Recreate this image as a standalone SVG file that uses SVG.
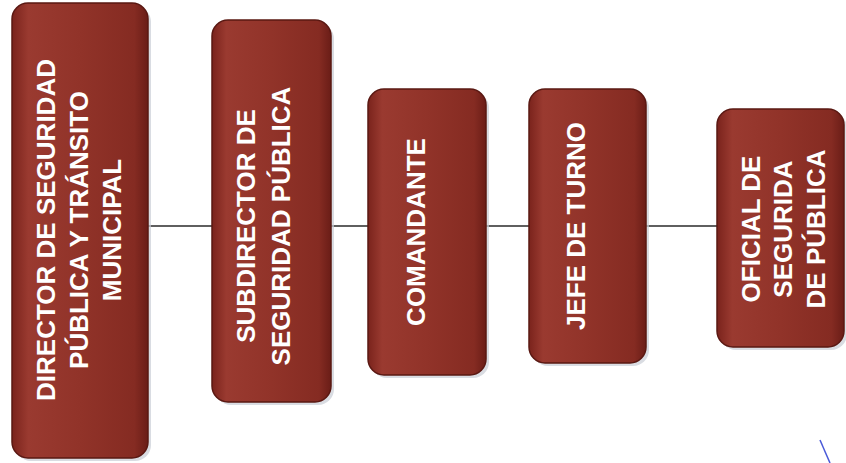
<svg xmlns="http://www.w3.org/2000/svg" width="846" height="463" viewBox="0 0 846 463">
<style>
.box{fill:url(#g);stroke:#5a1812;stroke-width:1.5}
.shadow{fill:#c9cdd6;opacity:0.7}
.lbl{font-family:"Liberation Sans",Arial,sans-serif;font-size:26px;font-weight:bold;fill:#ffffff;text-anchor:middle}
.conn{stroke:#2a2a2a;stroke-width:1.3;fill:none}
</style>
<defs>
<linearGradient id="g" x1="0" y1="0" x2="1" y2="0">
<stop offset="0" stop-color="#7a231c"/>
<stop offset="0.12" stop-color="#9a3a30"/>
<stop offset="0.5" stop-color="#913329"/>
<stop offset="0.9" stop-color="#852b22"/>
<stop offset="1" stop-color="#6a1d17"/>
</linearGradient>
</defs>
<rect width="846" height="463" fill="#ffffff"/>
<g id="connectors">
<line class="conn" x1="148" y1="226" x2="212" y2="226"/>
<line class="conn" x1="331" y1="226" x2="368" y2="226"/>
<line class="conn" x1="486" y1="226" x2="529" y2="226"/>
<line class="conn" x1="646" y1="226" x2="717" y2="226"/>
</g>
<g id="n1">
<rect class="shadow" x="15" y="6" width="136" height="455" rx="16"/>
<rect class="box" x="12" y="3" width="136" height="455" rx="16"/>
<text class="lbl" transform="translate(55,230) rotate(-90)">DIRECTOR DE SEGURIDAD</text>
<text class="lbl" transform="translate(88,230) rotate(-90)">PÚBLICA Y TRÁNSITO</text>
<text class="lbl" transform="translate(121,230) rotate(-90)">MUNICIPAL</text>
</g>
<g id="n2">
<rect class="shadow" x="215" y="23" width="119" height="382" rx="16"/>
<rect class="box" x="212" y="20" width="119" height="382" rx="16"/>
<text class="lbl" transform="translate(255,226) rotate(-90)">SUBDIRECTOR DE</text>
<text class="lbl" transform="translate(290,226) rotate(-90)">SEGURIDAD PÚBLICA</text>
</g>
<g id="n3">
<rect class="shadow" x="371" y="92" width="118" height="286" rx="16"/>
<rect class="box" x="368" y="89" width="118" height="286" rx="16"/>
<text class="lbl" transform="translate(425,232) rotate(-90)">COMANDANTE</text>
</g>
<g id="n4">
<rect class="shadow" x="532" y="92" width="117" height="274" rx="16"/>
<rect class="box" x="529" y="89" width="117" height="274" rx="16"/>
<text class="lbl" transform="translate(585,226) rotate(-90)">JEFE DE TURNO</text>
</g>
<g id="n5">
<rect class="shadow" x="720" y="112" width="127" height="238" rx="16"/>
<rect class="box" x="717" y="109" width="127" height="238" rx="16"/>
<text class="lbl" transform="translate(760,229) rotate(-90)">OFICIAL DE</text>
<text class="lbl" transform="translate(792,229) rotate(-90)">SEGURIDA</text>
<text class="lbl" transform="translate(825,229) rotate(-90)">DE PÚBLICA</text>
</g>
<line x1="820" y1="440" x2="830" y2="463" stroke="#4a5ad8" stroke-width="1.5"/>
</svg>
